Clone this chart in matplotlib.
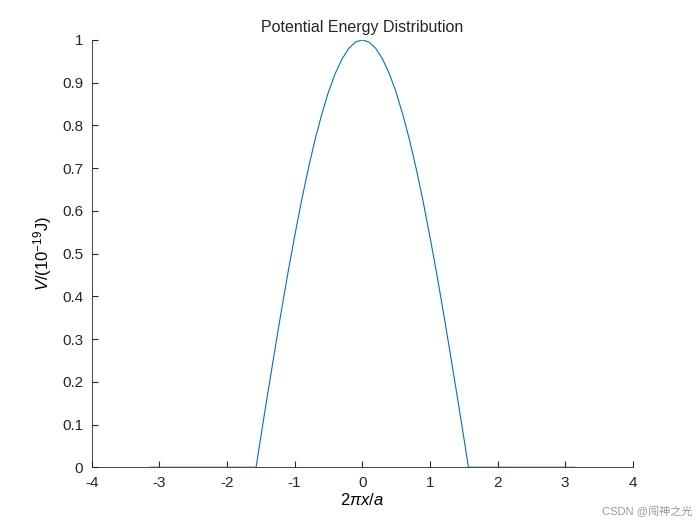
import matplotlib.pyplot as plt

plt.rcParams['font.family'] = ['Liberation Sans', 'Noto Sans CJK SC', 'DejaVu Sans']
plt.rcParams['axes.unicode_minus'] = False
plt.rcParams['mathtext.fontset'] = 'custom'
plt.rcParams['mathtext.rm'] = 'Liberation Sans'
plt.rcParams['mathtext.it'] = 'Liberation Sans:italic'

# values
x_vals = [-3.14, -1.57, -1.5, -1.4, -1.3, -1.2, -1.1, -1.0, -0.9, -0.8, -0.7, -0.6, -0.5,
          -0.4, -0.3, -0.2, -0.1, 0.0, 0.1, 0.2, 0.3, 0.4, 0.5, 0.6, 0.7, 0.8, 0.9,
          1.0, 1.1, 1.2, 1.3, 1.4, 1.5, 1.57, 3.14]
half = [0.071, 0.170, 0.267, 0.362, 0.454, 0.540, 0.622, 0.697, 0.765, 0.825, 0.878,
        0.921, 0.955, 0.980, 0.995]
v_vals = [0.0, 0.0] + half + [1.0] + half[::-1] + [0.0, 0.0]

x_ticks = [-4, -3, -2, -1, 0, 1, 2, 3, 4]
y_ticks = [0, 0.1, 0.2, 0.3, 0.4, 0.5, 0.6, 0.7, 0.8, 0.9, 1]

fig = plt.figure(figsize=(7, 5.25), dpi=100)
ax = fig.add_axes([0.131, 0.110, 0.773, 0.814])
ax.plot(x_vals, v_vals, color='#0072BD', lw=0.8)
ax.set_xlim(-4, 4)
ax.set_ylim(0, 1)
ax.set_xticks(x_ticks)
ax.set_yticks(y_ticks)
ax.set_yticklabels([f'{t:g}' for t in y_ticks])
ax.tick_params(direction='in', labelsize=11, length=4, pad=6,
               color='#262626', labelcolor='#262626')
for s in ['top', 'right']:
    ax.spines[s].set_visible(False)
for s in ['left', 'bottom']:
    ax.spines[s].set_color('#262626')
    ax.spines[s].set_linewidth(0.6)
ax.set_title('Potential Energy Distribution', fontsize=11.5, color='#262626', pad=6)
ax.set_xlabel(r'$2\pi x/a$', fontsize=12, labelpad=2)
ax.set_ylabel(r'$V/(10^{-19}\mathrm{J})$', fontsize=12, labelpad=6)
fig.text(0.99, 0.015, 'CSDN @闯神之光', ha='right', va='bottom', fontsize=8, color='#999999')
fig.savefig('out.png')
